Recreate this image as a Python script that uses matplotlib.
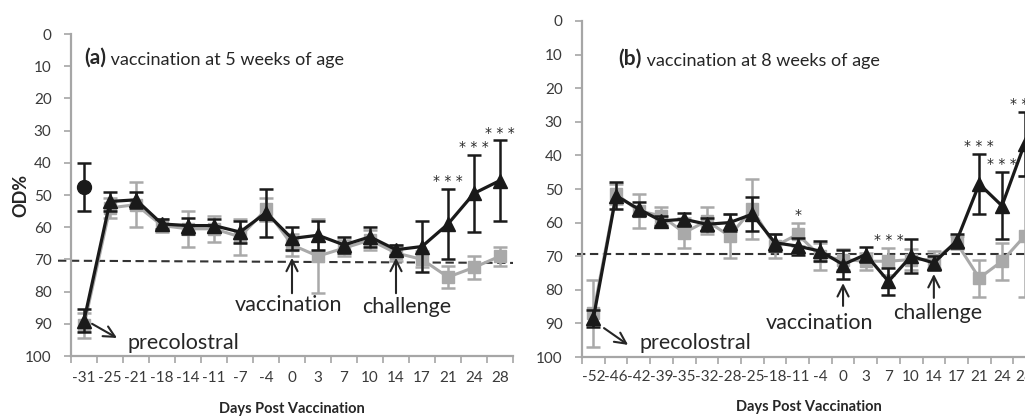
import matplotlib
matplotlib.use("Agg")
import matplotlib.pyplot as plt
import numpy as np

plt.rcParams["font.family"] = ["Lato", "DejaVu Sans"]

# ---- panel (a): vaccination at 5 weeks of age ----
days_a = [-31, -25, -21, -18, -14, -11, -7, -4, 0, 3, 7, 10, 14, 17, 21, 24, 28]
vacc_a = [89, 52, 51.5, 59, 59.5, 59.5, 61.5, 55.5, 63.5, 62.5, 65.5, 63, 67, 66, 59, 49.5, 45.5]
vacc_a_err = [3.5, 3, 2.5, 1.5, 2.5, 2, 3.5, 7.5, 3.5, 4.5, 2.5, 3, 1.5, 8, 11, 12, 12.5]
ctrl_a = [90.5, 54, 53, 59.5, 60.5, 60.5, 63, 54.5, 65.5, 69, 66.5, 64, 68, 70, 75.5, 72.5, 69]
ctrl_a_err = [4, 3, 7, 2, 5.5, 4, 5.5, 3.5, 3.5, 11.5, 2.5, 3, 2.5, 2.5, 3.5, 3.5, 3]
dam_day_a = -31
dam_a = 47.5
dam_a_err = 7.5
stars_a = {21: "***", 24: "***", 28: "***"}

# ---- panel (b): vaccination at 8 weeks of age ----
days_b = [-52, -46, -42, -39, -35, -32, -28, -25, -18, -11, -4, 0, 3, 7, 10, 14, 17, 21, 24, 28]
vacc_b = [88.5, 52, 56, 59.5, 59, 60.5, 60, 57.5, 66, 67, 68.5, 72.5, 69.5, 77.5, 70, 72, 65.5, 48.5, 55, 36.5]
vacc_b_err = [2.5, 4, 2, 1.5, 2, 2, 2.5, 5, 2.5, 2.5, 3, 4.2, 2.2, 4, 5, 2, 2, 9, 10, 9.5]
ctrl_b = [87, 51.5, 56.5, 58, 63, 59.5, 64, 56, 67, 63.5, 70, 71, 71.5, 71.5, 71, 71, 66, 76.5, 71.5, 64]
ctrl_b_err = [10, 3, 5, 2.5, 4.5, 4, 6.5, 9, 3.5, 3.5, 4, 3, 2.5, 4, 3, 2.5, 2, 5.5, 5.5, 18]
stars_b = {-11: "*", 7: "***", 21: "***", 24: "***", 28: "***"}

BLACK = "#1a1a1a"
GREY = "#a9a9a9"
AXIS = "#a6a6a6"
TEXT = "#262626"
TICK = "#3a3a3a"


def draw_panel(ax, days, vacc, vacc_err, ctrl, ctrl_err, stars,
               cutoff, label_pad, title_pos, tag, title):
    n = len(days)
    x = np.arange(n)
    ax.errorbar(x, ctrl, yerr=ctrl_err, color=GREY, marker="s", ms=8.5,
                lw=2.2, elinewidth=1.8, capsize=5, capthick=1.8, zorder=2)
    ax.errorbar(x, vacc, yerr=vacc_err, color=BLACK, marker="^", ms=10.5,
                lw=2.3, elinewidth=1.8, capsize=5, capthick=1.8, zorder=3)

    # significance marks above the higher error bar
    for d, s in stars.items():
        i = days.index(d)
        top = min(vacc[i] - vacc_err[i], ctrl[i] - ctrl_err[i])
        ax.text(i, top - 2.3, " ".join(s), ha="center", va="center",
                fontsize=10, family="DejaVu Sans", color=TEXT, clip_on=False)

    # protection cut-off
    ax.plot(cutoff[0], cutoff[1], ls=(0, (4, 2.2)), color="#333333", lw=1.5,
            clip_on=False, zorder=1)

    ax.set_xlim(-0.5, n - 0.5)
    ax.set_ylim(100, 0)
    ax.set_yticks(np.arange(0, 101, 10))
    ax.set_xticks(x)
    ax.set_xticklabels([str(d) for d in days])
    ax.set_xticks(np.arange(n + 1) - 0.5, minor=True)
    ax.tick_params(axis="x", which="major", length=0, pad=label_pad,
                   labelsize=11, labelcolor=TICK)
    ax.tick_params(axis="x", which="minor", length=5, width=1.2,
                   color=AXIS, direction="out")
    ax.tick_params(axis="y", length=5, width=1.2, color=AXIS, pad=9,
                   labelsize=11, labelcolor=TICK)
    for side in ("top", "right"):
        ax.spines[side].set_visible(False)
    for side in ("left", "bottom"):
        ax.spines[side].set_color(AXIS)
        ax.spines[side].set_linewidth(1.6)

    ax.set_xlabel("Days Post Vaccination", fontsize=10.5, fontweight="bold",
                  color=TEXT, labelpad=12)

    t1 = ax.text(title_pos[0], title_pos[1], tag, transform=ax.transAxes,
                 fontsize=15, fontweight="bold", color=TEXT,
                 ha="left", va="bottom")
    ax.annotate(" " + title, xy=(1, 0), xycoords=t1, fontsize=13,
                color=TEXT, ha="left", va="bottom")


fig = plt.figure(figsize=(10.25, 4.19), dpi=100)
ax_a = fig.add_axes([71 / 1025, 1 - 356 / 419, 442 / 1025, 322 / 419])
ax_b = fig.add_axes([582 / 1025, 1 - 357 / 419, 454 / 1025, 336 / 419])

draw_panel(ax_a, days_a, vacc_a, vacc_a_err, ctrl_a, ctrl_a_err, stars_a,
           cutoff=([-1.0, len(days_a) - 0.5], [70.4, 71.1]),
           label_pad=11, title_pos=(0.03, 0.895),
           tag="(a)", title="vaccination at 5 weeks of age")
draw_panel(ax_b, days_b, vacc_b, vacc_b_err, ctrl_b, ctrl_b_err, stars_b,
           cutoff=([-0.72, len(days_b) - 0.5], [69.4, 69.4]),
           label_pad=9, title_pos=(0.08, 0.858),
           tag="(b)", title="vaccination at 8 weeks of age")

# single colostrum reference point in panel (a)
i0 = days_a.index(dam_day_a)
ax_a.errorbar([i0], [dam_a], yerr=[dam_a_err], color=BLACK, marker="o",
              ms=10, elinewidth=1.8, capsize=5, capthick=1.8, zorder=3)

ax_a.set_ylabel("OD%", fontsize=13, fontweight="bold", color=TEXT)
ax_a.yaxis.set_label_coords(-0.094, 0.5)

arrow = dict(arrowstyle="->", lw=1.5, color=TEXT, mutation_scale=20,
             shrinkA=0, shrinkB=0)
note_kw = dict(fontsize=15.5, color=TEXT)

# panel (a) annotations
ax_a.annotate("", xy=(1.27, 94.4), xytext=(0.31, 90), arrowprops=arrow)
ax_a.text(1.69, 96, "precolostral", ha="left", va="center", **note_kw)
i = days_a.index(0)
ax_a.annotate("", xy=(i, 69.5), xytext=(i, 80.5), arrowprops=arrow)
ax_a.text(i - 0.15, 84.2, "vaccination", ha="center", va="center", **note_kw)
i = days_a.index(14)
ax_a.annotate("", xy=(i, 69.5), xytext=(i, 80.5), arrowprops=arrow)
ax_a.text(i + 0.42, 84.8, "challenge", ha="center", va="center", **note_kw)

# panel (b) annotations
ax_b.annotate("", xy=(1.53, 96.4), xytext=(0.47, 91.4), arrowprops=arrow)
ax_b.text(2.05, 95.8, "precolostral", ha="left", va="center", **note_kw)
i = days_b.index(0)
ax_b.annotate("", xy=(i, 78), xytext=(i, 84.8), arrowprops=arrow)
ax_b.text(i - 1.02, 89.9, "vaccination", ha="center", va="center", **note_kw)
i = days_b.index(14)
ax_b.annotate("", xy=(i, 75.3), xytext=(i, 82.4), arrowprops=arrow)
ax_b.text(i + 0.18, 87, "challenge", ha="center", va="center", **note_kw)

fig.savefig("out.png", dpi=100)
